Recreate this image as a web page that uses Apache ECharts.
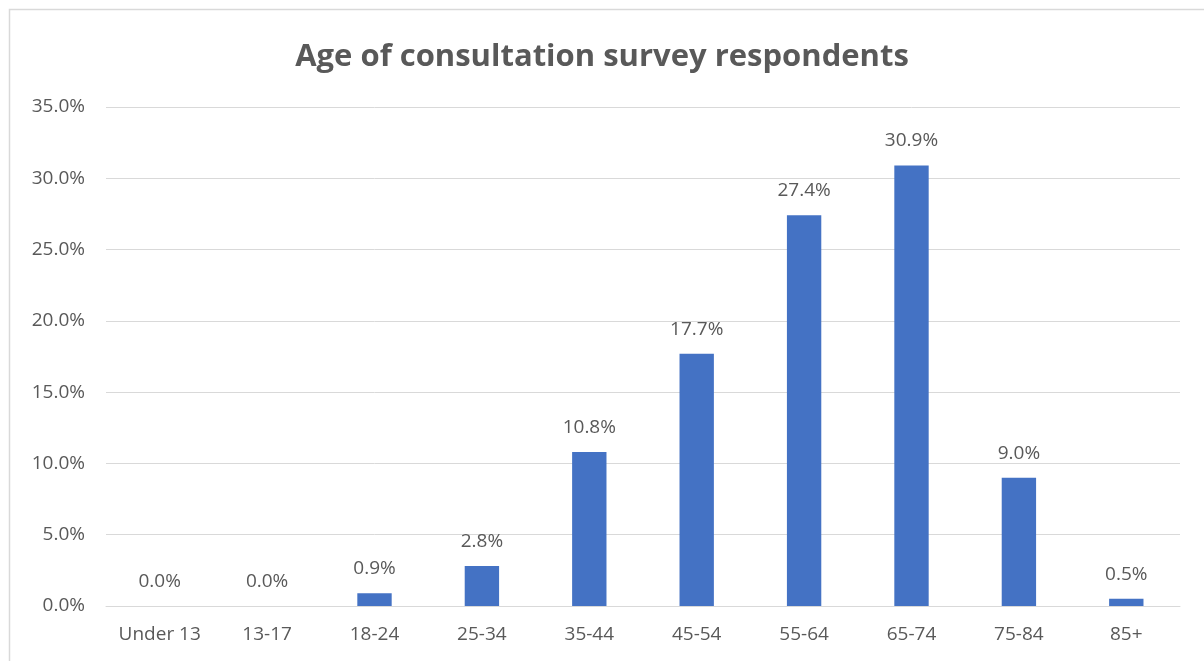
<!DOCTYPE html>
<html><head><meta charset="utf-8">
<script src="https://cdn.jsdelivr.net/npm/echarts@6/dist/echarts.min.js"></script>
<style>html,body{margin:0;padding:0;background:#fff}#c{width:1204px;height:661px}</style>
</head><body><div id="c"></div>
<script>
const categories = ["Under 13","13-17","18-24","25-34","35-44","45-54","55-64","65-74","75-84","85+"];
const values = [0.0, 0.0, 0.9, 2.8, 10.8, 17.7, 27.4, 30.9, 9.0, 0.5];
const titleText = "Age of consultation survey respondents";
const font = "'Open Sans', 'Noto Sans', sans-serif";
const chart = echarts.init(document.getElementById('c'));
chart.setOption({
  animation: false,
  backgroundColor: '#fff',
  title: { text: titleText, left: 'center', top: 37,
    textStyle: { fontFamily: font, fontSize: 31, fontWeight: 'bold', color: '#595959' } },
  graphic: [{ type: 'rect', shape: { x: 9.5, y: 9.5, width: 1210, height: 670 },
    style: { fill: 'none', stroke: '#d9d9d9', lineWidth: 1.5 }, silent: true }],
  grid: { left: 106, right: 24, top: 107, bottom: 55, containLabel: false },
  xAxis: { type: 'category', data: categories,
    axisLine: { lineStyle: { color: '#d9d9d9', width: 1 } }, axisTick: { show: false },
    axisLabel: { color: '#595959', fontFamily: font, fontSize: 19, margin: 19 } },
  yAxis: { type: 'value', min: 0, max: 35, interval: 5,
    axisLine: { show: false }, axisTick: { show: false },
    splitLine: { lineStyle: { color: '#d9d9d9', width: 1 } },
    axisLabel: { color: '#595959', fontFamily: font, fontSize: 19, margin: 21,
      formatter: v => v.toFixed(1) + '%' } },
  series: [{ type: 'bar', data: values, barWidth: '32%',
    itemStyle: { color: '#4472C4' },
    label: { show: true, position: 'top', distance: 15, color: '#595959', fontFamily: font, fontSize: 19,
      formatter: p => p.value.toFixed(1) + '%' } }]
});
</script></body></html>
